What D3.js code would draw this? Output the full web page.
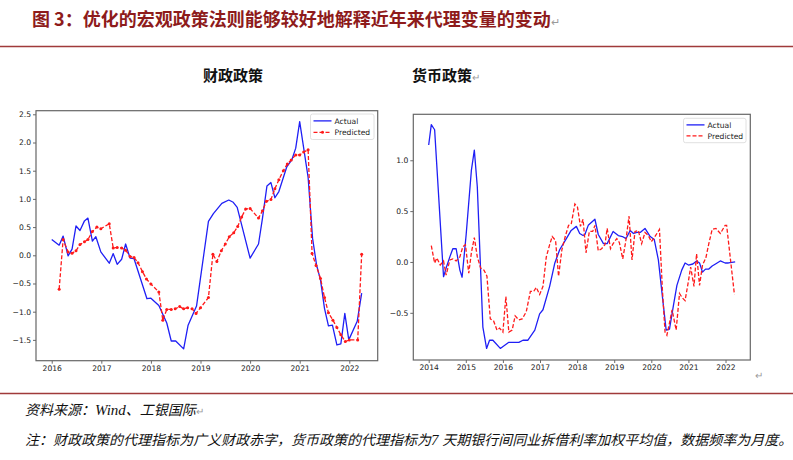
<!DOCTYPE html>
<html><head><meta charset="utf-8">
<script src="https://cdn.jsdelivr.net/npm/d3@7"></script>
<style>
html,body{margin:0;padding:0;background:#fff;}
svg{display:block;}
</style></head>
<body>
<svg id="c" width="793" height="460"></svg>
<script>
// ---- data ----
const titleText = "图 3：优化的宏观政策法则能够较好地解释近年来代理变量的变动";
const fiscalTitle = "财政政策";
const monetaryTitle = "货币政策";
const legendLabels = ["Actual", "Predicted"];
const fiscalYTicks = [2.5, 2.0, 1.5, 1.0, 0.5, 0.0, -0.5, -1.0, -1.5];
const fiscalXTicks = [2016, 2017, 2018, 2019, 2020, 2021, 2022];
const monetaryYTicks = [1.0, 0.5, 0.0, -0.5];
const monetaryXTicks = [2014, 2015, 2016, 2017, 2018, 2019, 2020, 2021, 2022];

const fiscalActual = [[2016.00,0.28],[2016.15,0.18],[2016.23,0.34],[2016.33,-0.01],[2016.41,0.11],[2016.49,0.52],[2016.57,0.44],[2016.66,0.61],[2016.73,0.66],[2016.82,0.25],[2016.89,0.33],[2016.99,0.06],[2017.16,-0.14],[2017.24,0.03],[2017.32,-0.16],[2017.41,-0.07],[2017.49,0.20],[2017.58,-0.05],[2017.66,-0.06],[2017.92,-0.77],[2018.00,-0.76],[2018.16,-0.89],[2018.32,-1.20],[2018.41,-1.52],[2018.50,-1.52],[2018.66,-1.66],[2018.75,-1.24],[2018.92,-0.90],[2019.16,0.60],[2019.26,0.74],[2019.43,0.92],[2019.57,0.98],[2019.66,0.94],[2019.74,0.85],[2020.00,-0.05],[2020.17,0.20],[2020.25,0.66],[2020.34,1.23],[2020.42,1.29],[2020.50,1.02],[2020.58,1.13],[2020.74,1.57],[2020.84,1.69],[2020.92,1.90],[2021.00,2.37],[2021.17,1.38],[2021.26,0.30],[2021.34,-0.17],[2021.42,-0.44],[2021.50,-0.94],[2021.58,-1.25],[2021.66,-1.24],[2021.75,-1.59],[2021.83,-1.57],[2021.91,-1.03],[2021.99,-1.50],[2022.16,-1.17],[2022.25,-0.67]];

const fiscalPredicted = [[2016.15,-0.60],[2016.23,0.28],[2016.33,0.06],[2016.41,0.035],[2016.49,0.08],[2016.57,0.19],[2016.66,0.24],[2016.73,0.28],[2016.82,0.42],[2016.91,0.50],[2016.99,0.47],[2017.16,0.56],[2017.24,0.13],[2017.32,0.14],[2017.41,0.13],[2017.49,0.09],[2017.58,-0.02],[2017.66,-0.04],[2017.74,-0.13],[2017.83,-0.29],[2017.91,-0.42],[2018.00,-0.51],[2018.16,-0.65],[2018.24,-1.15],[2018.32,-0.96],[2018.41,-0.96],[2018.49,-0.95],[2018.58,-0.91],[2018.66,-0.95],[2018.74,-0.93],[2018.83,-0.95],[2018.91,-1.03],[2019.00,-0.93],[2019.16,-0.75],[2019.25,0.02],[2019.33,-0.11],[2019.42,0.08],[2019.50,0.20],[2019.58,0.33],[2019.67,0.40],[2019.75,0.51],[2019.83,0.68],[2019.91,0.82],[2020.00,0.83],[2020.17,0.66],[2020.25,0.79],[2020.33,0.96],[2020.42,0.99],[2020.50,1.18],[2020.58,1.34],[2020.67,1.50],[2020.75,1.62],[2020.83,1.69],[2020.92,1.78],[2021.00,1.78],[2021.08,1.83],[2021.17,1.87],[2021.25,0.03],[2021.33,-0.18],[2021.42,-0.41],[2021.50,-0.75],[2021.58,-1.02],[2021.67,-1.15],[2021.75,-1.28],[2021.83,-1.41],[2021.92,-1.53],[2022.00,-1.50],[2022.17,-1.50],[2022.25,0.02]];

const monetaryActual = [[2014.00,1.15],[2014.07,1.35],[2014.16,1.30],[2014.40,-0.145],[2014.47,-0.06],[2014.57,0.05],[2014.65,0.13],[2014.74,0.13],[2014.84,-0.08],[2014.90,-0.15],[2015.01,0.27],[2015.15,0.90],[2015.23,1.10],[2015.31,0.74],[2015.46,-0.64],[2015.56,-0.85],[2015.64,-0.77],[2015.73,-0.77],[2015.93,-0.85],[2016.16,-0.79],[2016.43,-0.79],[2016.54,-0.77],[2016.67,-0.77],[2016.86,-0.67],[2016.99,-0.51],[2017.08,-0.47],[2017.26,-0.24],[2017.40,-0.01],[2017.53,0.12],[2017.71,0.23],[2017.84,0.31],[2017.98,0.35],[2018.07,0.28],[2018.16,0.26],[2018.21,0.27],[2018.30,0.36],[2018.42,0.40],[2018.48,0.42],[2018.57,0.27],[2018.71,0.18],[2018.81,0.18],[2018.97,0.30],[2019.11,0.26],[2019.22,0.25],[2019.32,0.23],[2019.43,0.31],[2019.52,0.28],[2019.61,0.29],[2019.70,0.29],[2019.83,0.33],[2019.97,0.25],[2020.08,0.22],[2020.19,0.02],[2020.32,-0.41],[2020.40,-0.67],[2020.49,-0.66],[2020.60,-0.42],[2020.69,-0.23],[2020.82,-0.08],[2020.91,-0.01],[2021.00,-0.03],[2021.12,-0.02],[2021.22,0.01],[2021.30,-0.01],[2021.38,-0.10],[2021.46,-0.07],[2021.55,-0.07],[2021.64,-0.04],[2021.73,-0.02],[2021.86,0.01],[2021.99,-0.01],[2022.08,-0.01],[2022.26,0.00]];

const monetaryPredicted = [[2014.07,0.16],[2014.16,-0.01],[2014.22,0.04],[2014.31,-0.03],[2014.40,0.01],[2014.47,-0.13],[2014.57,0.02],[2014.65,0.03],[2014.74,0.01],[2014.84,0.05],[2014.92,0.15],[2014.99,0.17],[2015.08,-0.11],[2015.15,0.09],[2015.23,0.24],[2015.31,0.05],[2015.40,-0.06],[2015.49,-0.08],[2015.57,-0.14],[2015.66,-0.56],[2015.75,-0.58],[2015.84,-0.67],[2015.91,-0.65],[2016.00,-0.69],[2016.08,-0.34],[2016.16,-0.69],[2016.25,-0.67],[2016.33,-0.53],[2016.43,-0.57],[2016.52,-0.56],[2016.63,-0.49],[2016.74,-0.29],[2016.83,-0.29],[2016.90,-0.25],[2016.99,-0.32],[2017.08,-0.24],[2017.17,0.05],[2017.26,0.17],[2017.33,0.25],[2017.42,0.21],[2017.50,-0.14],[2017.59,0.12],[2017.68,0.25],[2017.77,0.36],[2017.84,0.37],[2017.94,0.57],[2018.01,0.54],[2018.09,0.35],[2018.16,0.42],[2018.24,0.09],[2018.33,0.30],[2018.42,0.30],[2018.48,0.36],[2018.57,0.11],[2018.66,0.13],[2018.75,0.17],[2018.81,0.33],[2018.90,0.13],[2018.97,0.18],[2019.07,0.23],[2019.14,0.19],[2019.23,0.03],[2019.31,0.20],[2019.40,0.45],[2019.48,0.02],[2019.56,0.30],[2019.65,0.31],[2019.74,0.18],[2019.83,0.29],[2019.92,0.26],[2020.00,0.20],[2020.08,0.24],[2020.22,0.32],[2020.30,-0.28],[2020.37,-0.69],[2020.42,-0.72],[2020.49,-0.60],[2020.56,-0.47],[2020.67,-0.67],[2020.76,-0.31],[2020.83,-0.35],[2020.91,-0.38],[2021.00,-0.19],[2021.06,-0.05],[2021.15,-0.24],[2021.22,0.08],[2021.30,-0.23],[2021.38,-0.03],[2021.47,0.04],[2021.55,0.18],[2021.64,0.32],[2021.74,0.33],[2021.86,0.28],[2021.99,0.36],[2022.03,0.36],[2022.24,-0.32]];

// ---- drawing ----
const svg = d3.select("#c");
svg.append("rect").attr("width",793).attr("height",460).attr("fill","#fff");

const CJK = "'Noto Sans CJK SC','Noto Sans CJK JP',sans-serif";
const RED_DARK = "#8e1b1b";
const RET = "#9a9a9a";

// Title
const t = svg.append("text").attr("x",32).attr("y",26)
  .attr("font-family",CJK).attr("font-weight","bold").attr("font-size",18)
  .attr("fill",RED_DARK);
t.append("tspan").text(titleText);
t.append("tspan").attr("fill",RET).attr("font-size",11).attr("font-weight","normal").text("↵");

svg.append("line").attr("x1",0).attr("x2",793).attr("y1",46.5).attr("y2",46.5)
  .attr("stroke","#a03a3a").attr("stroke-width",1.3);
svg.append("line").attr("x1",0).attr("x2",793).attr("y1",393.5).attr("y2",393.5)
  .attr("stroke","#a03a3a").attr("stroke-width",1.3);

// chart titles
svg.append("text").attr("x",203).attr("y",81).attr("font-family",CJK)
  .attr("font-weight","bold").attr("font-size",15).attr("fill","#111").text(fiscalTitle);
const mt = svg.append("text").attr("x",412).attr("y",81).attr("font-family",CJK)
  .attr("font-weight","bold").attr("font-size",15).attr("fill","#111");
mt.append("tspan").text(monetaryTitle);
mt.append("tspan").attr("fill",RET).attr("font-size",10).attr("font-weight","normal").text("↵");

function fmt(v){ return (v<0?"\u2212":"") + Math.abs(v).toFixed(1); }

function panel(opt){
  const g = svg.append("g");
  const x = d3.scaleLinear().domain(opt.xDomain).range([opt.left,opt.right]);
  const y = d3.scaleLinear().domain(opt.yDomain).range([opt.bottom,opt.top]);
  const axisFont = "'DejaVu Sans',sans-serif";

  const line = d3.line().x(d=>x(d[0])).y(d=>y(d[1]));
  const clipId = "clip"+opt.id;
  g.append("clipPath").attr("id",clipId).append("rect")
    .attr("x",opt.left).attr("y",opt.top).attr("width",opt.right-opt.left).attr("height",opt.bottom-opt.top);
  const pg = g.append("g").attr("clip-path",`url(#${clipId})`);
  pg.append("path").datum(opt.actual).attr("d",line).attr("fill","none")
    .attr("stroke","#1f1ff5").attr("stroke-width",1.3).attr("stroke-linejoin","round");
  pg.append("path").datum(opt.predicted).attr("d",line).attr("fill","none")
    .attr("stroke","#ff1a1a").attr("stroke-width",1.3).attr("stroke-dasharray","4,2");
  if(opt.markers){
    pg.selectAll("circle.m").data(opt.predicted).enter().append("circle")
      .attr("cx",d=>x(d[0])).attr("cy",d=>y(d[1])).attr("r",1.5).attr("fill","#ff1a1a");
  }

  // axes
  const xa = g.append("g").attr("transform",`translate(0,${opt.bottom})`)
    .call(d3.axisBottom(x).tickValues(opt.xTicks).tickFormat(d3.format("d")).tickSizeOuter(0).tickSize(3).tickPadding(2));
  const ya = g.append("g").attr("transform",`translate(${opt.left},0)`)
    .call(d3.axisLeft(y).tickValues(opt.yTicks).tickFormat(fmt).tickSizeOuter(0).tickSize(3).tickPadding(2));
  [xa,ya].forEach(a=>{
    a.select(".domain").remove();
    a.selectAll("line").attr("stroke","#444").attr("stroke-width",0.8);
    a.selectAll("text").attr("font-family",axisFont).attr("font-size",7.6).attr("fill","#222");
  });

  g.append("rect").attr("x",opt.left).attr("y",opt.top)
    .attr("width",opt.right-opt.left).attr("height",opt.bottom-opt.top)
    .attr("fill","none").attr("stroke","#666").attr("stroke-width",1.2);

  // legend
  const L = opt.legend;
  g.append("rect").attr("x",L.x).attr("y",L.y).attr("width",L.w).attr("height",L.h)
    .attr("rx",2).attr("fill","#fff").attr("stroke","#d8d8d8").attr("stroke-width",0.8);
  const rows = [L.y+L.h*0.27, L.y+L.h*0.72];
  g.append("line").attr("x1",L.x+3).attr("x2",L.x+21).attr("y1",rows[0]).attr("y2",rows[0])
    .attr("stroke","#1f1ff5").attr("stroke-width",1.3);
  g.append("line").attr("x1",L.x+3).attr("x2",L.x+21).attr("y1",rows[1]).attr("y2",rows[1])
    .attr("stroke","#ff1a1a").attr("stroke-width",1.3).attr("stroke-dasharray","4,2");
  if(opt.markers){
    g.append("circle").attr("cx",L.x+12).attr("cy",rows[1]).attr("r",1.5).attr("fill","#ff1a1a");
  }
  legendLabels.forEach((lab,i)=>{
    g.append("text").attr("x",L.x+24).attr("y",rows[i]+2.7).attr("font-family",axisFont)
      .attr("font-size",7.6).attr("fill","#222").text(lab);
  });
}

panel({id:"f", left:36, right:377.7, top:110.7, bottom:360.7,
  xDomain:[2015.683,2022.573], yDomain:[-1.869,2.564],
  xTicks:fiscalXTicks, yTicks:fiscalYTicks,
  actual:fiscalActual, predicted:fiscalPredicted, markers:true,
  legend:{x:310.5,y:114,w:63.5,h:25.5}});

panel({id:"m", left:413.3, right:750.3, top:114.3, bottom:360,
  xDomain:[2013.585,2022.668], yDomain:[-0.964,1.452],
  xTicks:monetaryXTicks, yTicks:monetaryYTicks,
  actual:monetaryActual, predicted:monetaryPredicted, markers:false,
  legend:{x:683.5,y:118.3,w:62.5,h:24.4}});

svg.append("text").attr("x",755).attr("y",379).attr("font-family",CJK)
  .attr("font-size",10).attr("fill",RET).text("↵");

// footnotes
const s = svg.append("text").attr("x",25).attr("y",415).attr("font-family",CJK)
  .attr("font-size",14).attr("font-style","italic").attr("fill","#111");
s.append("tspan").text("资料来源：");
s.append("tspan").attr("font-family","'Liberation Serif',serif").attr("font-size",15).text("Wind");
s.append("tspan").text("、工银国际");
s.append("tspan").attr("fill",RET).attr("font-size",10).attr("font-style","normal").text("↵");

const n = svg.append("text").attr("x",25).attr("y",445).attr("font-family",CJK)
  .attr("font-size",14).attr("font-style","italic").attr("fill","#111");
n.append("tspan").text("注：财政政策的代理指标为广义财政赤字，货币政策的代理指标为");
n.append("tspan").attr("font-family","'Liberation Serif',serif").attr("font-size",15).text("7 ");
n.append("tspan").text("天期银行间同业拆借利率加权平均值，数据频率为月度。");
</script>
</body></html>
